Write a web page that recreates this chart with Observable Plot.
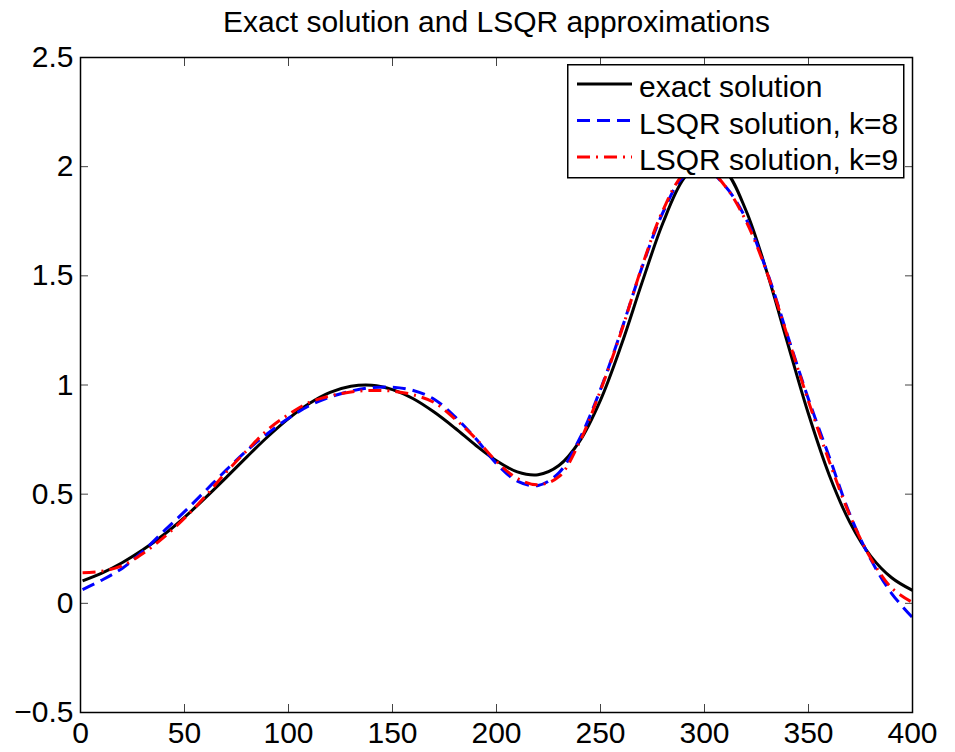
<!DOCTYPE html>
<html><head><meta charset="utf-8">
<script src="https://cdn.jsdelivr.net/npm/d3@7"></script>
<script src="https://cdn.jsdelivr.net/npm/@observablehq/plot@0.6"></script>
<style>
body{margin:0;background:#fff;}
#wrap{position:relative;width:955px;height:752px;font-family:"Liberation Sans",Arial,Helvetica,sans-serif;}
#legend{position:absolute;left:567px;top:64px;}
</style></head><body><div id="wrap"></div>
<script>
const titleText = "Exact solution and LSQR approximations";
const seriesNames = ["exact solution", "LSQR solution, k=8", "LSQR solution, k=9"];
const idx = [1,10,20,30,40,50,60,70,80,90,100,110,120,130,140,150,160,170,180,190,200,210,220,230,240,250,260,270,280,290,300,310,320,330,340,350,360,370,380,390,400];
const exact = [0.103,0.137,0.186,0.245,0.314,0.394,0.483,0.576,0.671,0.763,0.846,0.915,0.966,0.994,0.999,0.979,0.937,0.876,0.803,0.724,0.653,0.602,0.589,0.631,0.743,0.931,1.183,1.470,1.742,1.945,2.033,1.982,1.798,1.517,1.190,0.867,0.587,0.369,0.215,0.117,0.059];
const lsqr8 = [0.063,0.105,0.160,0.238,0.330,0.420,0.515,0.610,0.700,0.778,0.848,0.905,0.945,0.972,0.988,0.990,0.975,0.935,0.855,0.755,0.640,0.560,0.540,0.598,0.755,0.980,1.250,1.540,1.790,1.955,1.990,1.910,1.760,1.520,1.225,0.935,0.670,0.405,0.200,0.045,-0.065];
const lsqr9 = [0.140,0.147,0.172,0.228,0.302,0.390,0.490,0.600,0.700,0.795,0.865,0.920,0.950,0.968,0.975,0.972,0.955,0.920,0.845,0.755,0.650,0.572,0.543,0.580,0.740,0.975,1.245,1.545,1.800,1.965,2.000,1.910,1.750,1.515,1.220,0.925,0.650,0.400,0.205,0.070,0.004];
const xTicks = [0,50,100,150,200,250,300,350,400];
const yTicks = [-0.5,0,0.5,1,1.5,2,2.5];
const yTickLabels = ["\u22120.5","0","0.5","1","1.5","2","2.5"];

const colors = ["#000000", "#0000ff", "#ff0000"];
const dashes = [null, "13,7", "13,6,2,6"];
const values = [exact, lsqr8, lsqr9];
const FONT = "Liberation Sans, Arial, Helvetica, sans-serif";

const rows = values.map(vals => idx.map((x, i) => ({x, y: vals[i]})));

const lineMarks = rows.map((r, k) => Plot.line(r, {
  x: "x", y: "y", stroke: colors[k], strokeWidth: 3,
  strokeDasharray: dashes[k], strokeLinecap: "butt", curve: "catmull-rom"
}));

const plot = Plot.plot({
  width: 955, height: 752,
  marginLeft: 80, marginRight: 43, marginTop: 57, marginBottom: 40,
  x: {domain: [0, 400]},
  y: {domain: [-0.5, 2.5]},
  style: {fontFamily: FONT, fontSize: "30px", background: "white", color: "black"},
  marks: [
    ...lineMarks,
    Plot.axisX(xTicks, {anchor: "bottom", tickSize: 0, tickPadding: 9, fontSize: 30, label: null}),
    Plot.axisY(yTicks, {anchor: "left", tickSize: 0, tickPadding: 7, fontSize: 30, label: null,
      tickFormat: d => yTickLabels[yTicks.indexOf(d)]}),
    Plot.axisX(xTicks, {anchor: "bottom", tickSize: -8, tickFormat: () => "", label: null, stroke: "#444"}),
    Plot.axisX(xTicks, {anchor: "top", tickSize: -8, tickFormat: () => "", label: null, stroke: "#444"}),
    Plot.axisY(yTicks, {anchor: "left", tickSize: -8, tickFormat: () => "", label: null, stroke: "#444"}),
    Plot.axisY(yTicks, {anchor: "right", tickSize: -8, tickFormat: () => "", label: null, stroke: "#444"}),
    Plot.frame({stroke: "black", strokeWidth: 1.5}),
    Plot.text([titleText], {text: d => d, frameAnchor: "top", dy: -35, lineAnchor: "middle", fontSize: 30})
  ]
});
document.getElementById("wrap").appendChild(plot);

// legend overlay
const W = 336, H = 113;
const leg = d3.create("svg").attr("id", "legend").attr("width", W + 2).attr("height", H + 2);
leg.append("rect").attr("x", 0.75).attr("y", 0.75).attr("width", W).attr("height", H)
  .attr("fill", "white").attr("stroke", "black").attr("stroke-width", 1.5);
seriesNames.forEach((name, k) => {
  const cy = 20 + k * 36.5;
  leg.append("line").attr("x1", 10).attr("x2", 65).attr("y1", cy).attr("y2", cy)
    .attr("stroke", colors[k]).attr("stroke-width", 3)
    .attr("stroke-dasharray", dashes[k]).attr("stroke-linecap", "butt");
  leg.append("text").attr("x", 72).attr("y", cy + 13).attr("font-size", 30)
    .attr("font-family", FONT).attr("fill", "black").text(name);
});
document.getElementById("wrap").appendChild(leg.node());
</script>
</body></html>
